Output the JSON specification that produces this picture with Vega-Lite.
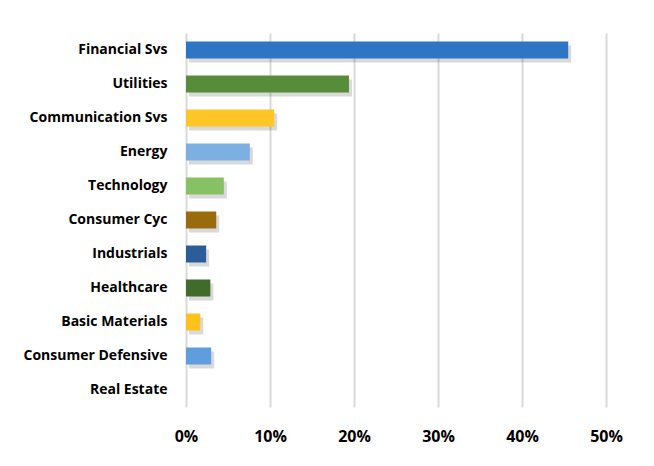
{
  "$schema": "https://vega.github.io/schema/vega-lite/v6.json",
  "description": "Sector weights, horizontal bars",
  "width": 420,
  "height": 374,
  "autosize": {"type": "none"},
  "padding": {"left": 186, "top": 33, "right": 48, "bottom": 59},
  "background": "white",
  "config": {
    "view": {"stroke": null},
    "font": "Open Sans"
  },
  "data": {
    "values": [
      {"sector": "Financial Svs", "weight": 0.455, "color": "#2E75C6"},
      {"sector": "Utilities", "weight": 0.194, "color": "#578D39"},
      {"sector": "Communication Svs", "weight": 0.105, "color": "#FCC626"},
      {"sector": "Energy", "weight": 0.076, "color": "#7CAFE2"},
      {"sector": "Technology", "weight": 0.045, "color": "#86C163"},
      {"sector": "Consumer Cyc", "weight": 0.036, "color": "#9A6B0C"},
      {"sector": "Industrials", "weight": 0.024, "color": "#2B5E99"},
      {"sector": "Healthcare", "weight": 0.029, "color": "#3F6B2B"},
      {"sector": "Basic Materials", "weight": 0.017, "color": "#FFC21A"},
      {"sector": "Consumer Defensive", "weight": 0.03, "color": "#5E9EDE"},
      {"sector": "Real Estate", "weight": 0, "color": "#A5A5A5"}
    ]
  },
  "encoding": {
    "y": {
      "field": "sector",
      "type": "nominal",
      "sort": null,
      "title": null,
      "scale": {"paddingInner": 0.5, "paddingOuter": 0.25},
      "axis": {
        "domain": false,
        "ticks": false,
        "labelFont": "Open Sans",
        "labelFontWeight": "bold",
        "labelFontSize": 14,
        "labelColor": "#000000",
        "labelPadding": 19
      }
    },
    "x": {
      "field": "weight",
      "type": "quantitative",
      "title": null,
      "scale": {"domain": [0, 0.5], "nice": false},
      "axis": {
        "format": ".0%",
        "values": [0, 0.1, 0.2, 0.3, 0.4, 0.5],
        "labelOverlap": false,
        "labelFlush": false,
        "domain": false,
        "ticks": false,
        "grid": true,
        "gridColor": "#D9D9D9",
        "gridWidth": 2,
        "labelFont": "Open Sans",
        "labelFontWeight": "bold",
        "labelFontSize": 16,
        "labelColor": "#000000",
        "labelPadding": 21
      }
    }
  },
  "layer": [
    {
      "mark": {"type": "bar", "color": "#000000", "opacity": 0.15, "xOffset": 3, "yOffset": 4}
    },
    {
      "mark": {"type": "bar"},
      "encoding": {
        "color": {"field": "color", "type": "nominal", "scale": null}
      }
    }
  ]
}
